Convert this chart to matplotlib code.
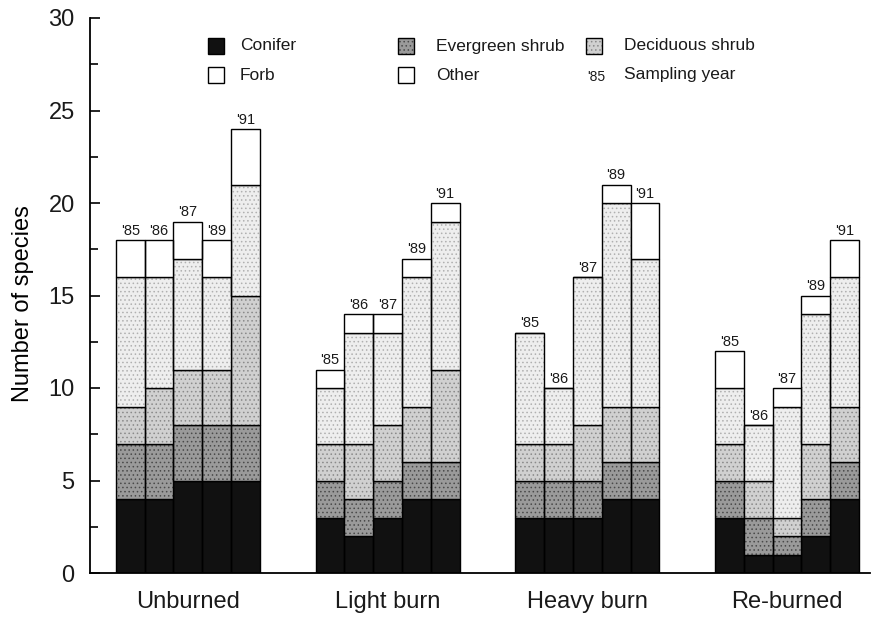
import matplotlib.pyplot as plt
from matplotlib.patches import Rectangle

plt.rcParams['font.family'] = ['Liberation Sans', 'DejaVu Sans']
plt.rcParams['hatch.linewidth'] = 0.6
plt.rcParams['text.color'] = '#1a1a1a'
plt.rcParams['xtick.labelcolor'] = '#1a1a1a'
plt.rcParams['ytick.labelcolor'] = '#1a1a1a'

groups = ["Unburned", "Light burn", "Heavy burn", "Re-burned"]
years = ["'85", "'86", "'87", "'89", "'91"]

# species counts per growth form, one list of 5 sampling years per treatment
conifer = [[4, 4, 5, 5, 5], [3, 2, 3, 4, 4], [3, 3, 3, 4, 4], [3, 1, 1, 2, 4]]
evergreen = [[3, 3, 3, 3, 3], [2, 2, 2, 2, 2], [2, 2, 2, 2, 2], [2, 2, 1, 2, 2]]
deciduous = [[2, 3, 3, 3, 7], [2, 3, 3, 3, 5], [2, 2, 3, 3, 3], [2, 2, 1, 3, 3]]
forb = [[7, 6, 6, 5, 6], [3, 6, 5, 7, 8], [6, 3, 8, 11, 8], [3, 3, 6, 7, 7]]
other = [[2, 2, 2, 2, 3], [1, 1, 1, 1, 1], [0, 0, 0, 1, 3], [2, 0, 1, 1, 2]]

# (name, values, face, stipple colour, hatch)
layers = [
    ("Conifer", conifer, "#111111", "#111111", None),
    ("Evergreen shrub", evergreen, "#9a9a9a", "#4a4a4a", "...."),
    ("Deciduous shrub", deciduous, "#d0d0d0", "#8a8a8a", "...."),
    ("Forb", forb, "#eeeeee", "#b0b0b0", "...."),
    ("Other", other, "white", "white", None),
]

fig = plt.figure(figsize=(8.77, 6.18), dpi=100)
ax = fig.add_axes([90 / 877, 45 / 618, 780 / 877, 555 / 618])

group_start = 0.9
group_step = 6.94
for g in range(len(groups)):
    xs = [group_start + g * group_step + i + 0.5 for i in range(len(years))]
    bottom = [0] * len(years)
    for name, vals, face, dots, hatch in layers:
        v = vals[g]
        ax.bar(xs, v, width=1.0, bottom=bottom, color=face,
               edgecolor=dots, hatch=hatch, linewidth=0)
        ax.bar(xs, v, width=1.0, bottom=bottom, fill=False,
               edgecolor="black", linewidth=1.0)
        bottom = [b + h for b, h in zip(bottom, v)]
    for x, top, yr in zip(xs, bottom, years):
        ax.text(x, top + 0.12, yr, ha="center", va="bottom", fontsize=10.5)

ax.set_xlim(0, 27.1)
ax.set_ylim(0, 30)
ax.set_yticks(range(0, 31, 5))
ax.set_yticks([2.5 + 5 * k for k in range(6)], minor=True)
ax.tick_params(axis="y", direction="in", length=7, width=1.2, labelsize=17, pad=11)
ax.tick_params(axis="y", which="minor", direction="in", length=6, width=1.2)
centers = [group_start + g * group_step + 2.5 for g in range(len(groups))]
ax.set_xticks(centers)
ax.set_xticklabels(groups, fontsize=17)
ax.tick_params(axis="x", length=0, pad=13)
ax.set_ylabel("Number of species", fontsize=17)
ax.yaxis.set_label_coords(-0.072, 0.485)

for side in ["top", "right"]:
    ax.spines[side].set_visible(False)
ax.spines["left"].set_linewidth(1.3)
ax.spines["bottom"].set_linewidth(1.3)


def ax_xy(px, py):
    return (px - 90) / 780, (573 - py) / 555


# legend, laid out by hand in two rows of three
entries = [
    ("Conifer", "#111111", "#111111", None, 208, 240, 46),
    ("Forb", "white", "white", None, 208, 240, 75),
    ("Evergreen shrub", "#9a9a9a", "#4a4a4a", "....", 398, 436, 46),
    ("Other", "white", "white", None, 398, 436, 75),
    ("Deciduous shrub", "#d0d0d0", "#8a8a8a", "....", 586, 624, 46),
]
for label, face, dots, hatch, px, tpx, py in entries:
    x0, y0 = ax_xy(px, py + 8)
    w = 16 / 780
    h = 16 / 555
    ax.add_patch(Rectangle((x0, y0), w, h, transform=ax.transAxes,
                           facecolor=face, edgecolor=dots, hatch=hatch,
                           linewidth=0, clip_on=False))
    ax.add_patch(Rectangle((x0, y0), w, h, transform=ax.transAxes,
                           fill=False, edgecolor="black", linewidth=1.0,
                           clip_on=False))
    tx, ty = ax_xy(tpx, py)
    ax.text(tx, ty, label, transform=ax.transAxes, va="center", fontsize=12.5)
tx, ty = ax_xy(587, 77)
ax.text(tx, ty, "'85", transform=ax.transAxes, va="center", fontsize=10)
tx, ty = ax_xy(624, 75)
ax.text(tx, ty, "Sampling year", transform=ax.transAxes, va="center", fontsize=12.5)

fig.savefig("out.png", dpi=100)
